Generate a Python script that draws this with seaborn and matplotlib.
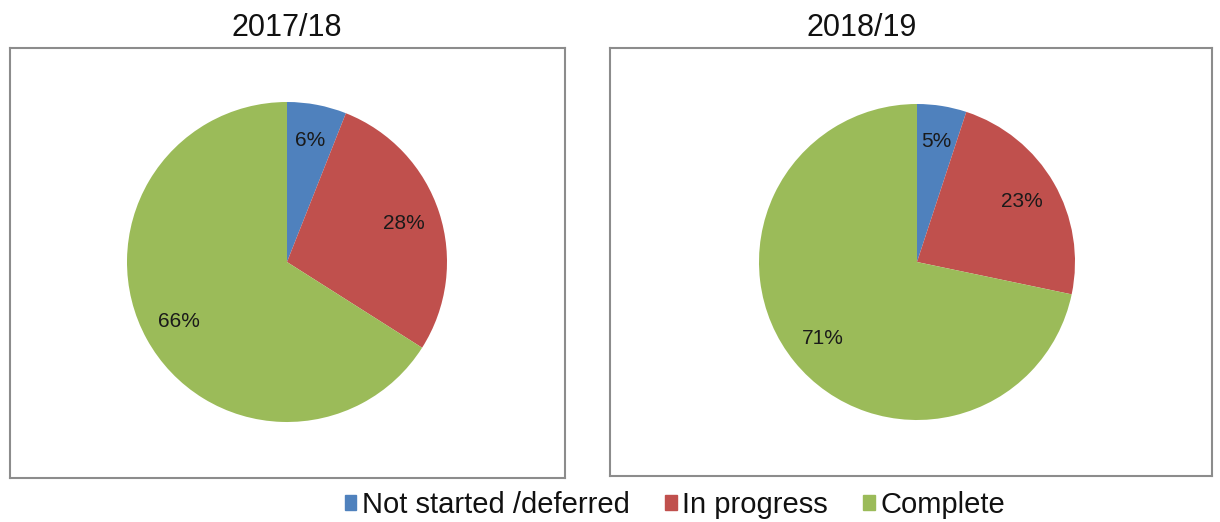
import matplotlib
matplotlib.use("Agg")
import matplotlib.pyplot as plt
import matplotlib.patches as mpatches
import seaborn as sns

# data
categories = ["Not started /deferred", "In progress", "Complete"]
years = ["2017/18", "2018/19"]
values_1718 = [6, 28, 66]
values_1819 = [5, 23, 71]
colors = ["#4F81BD", "#C0504D", "#9BBB59"]

sns.set_theme(style="white")
plt.rcParams['font.family'] = ['Liberation Sans', 'DejaVu Sans']

W, H = 1220, 522
fig = plt.figure(figsize=(W / 100, H / 100), dpi=100)


def panel(box, center, radius, values, title, title_x):
    # box = (left, top, right, bottom) in pixels
    l, t, r, b = box
    ax = fig.add_axes([l / W, 1 - b / H, (r - l) / W, (b - t) / H])
    ax.pie(values, colors=colors, startangle=90, counterclock=False,
           center=(center[0] - l, b - center[1]), radius=radius,
           labels=[f"{v}%" for v in values], labeldistance=None,
           frame=True, wedgeprops=dict(linewidth=0))
    # labels placed inside wedges
    import numpy as np
    tot = sum(values)
    start = 90.0
    for v in values:
        ang = start - 360.0 * v / tot / 2
        start -= 360.0 * v / tot
        rr = radius * 0.77
        x = center[0] - l + rr * np.cos(np.radians(ang))
        y = b - center[1] + rr * np.sin(np.radians(ang))
        ax.text(x, y, f"{v}%", ha="center", va="center", fontsize=15, color="#1a1a1a")
    ax.set_xlim(0, r - l)
    ax.set_ylim(0, b - t)
    ax.set_aspect("auto")
    ax.set_xticks([])
    ax.set_yticks([])
    for s in ax.spines.values():
        s.set_visible(True)
        s.set_color("#8c8c8c")
        s.set_linewidth(1.5)
    fig.text(title_x / W, 1 - 28 / H, title, ha="center", va="center",
             fontsize=22, color="#111111")
    return ax


panel((10, 48, 565, 478), (287, 262), 160, values_1718, years[0], 287)
panel((610, 48, 1212, 476), (917, 262), 158, values_1819, years[1], 862)

handles = [mpatches.Patch(color=c, label=n) for c, n in zip(colors, categories)]
fig.legend(handles=handles, loc="center", bbox_to_anchor=(675 / W, 1 - 505 / H),
           ncol=3, frameon=False, fontsize=21, handlelength=0.4, handleheight=0.4,
           handletextpad=0.2, columnspacing=1.2, labelcolor="#111111")

fig.savefig("out.png", dpi=100, facecolor="white")
